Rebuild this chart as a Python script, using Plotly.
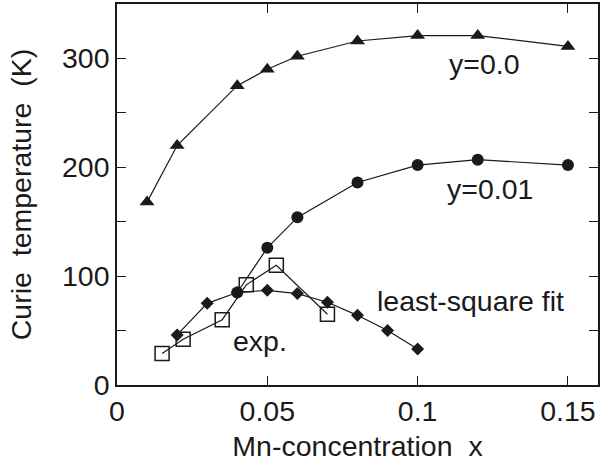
import plotly.graph_objects as go

# y = 0.0 series (triangles)
x_y00 = [0.01, 0.02, 0.04, 0.05, 0.06, 0.08, 0.10, 0.12, 0.15]
tc_y00 = [168, 220, 275, 290, 302, 316, 321, 321, 311]

# y = 0.01 series (circles)
x_y01 = [0.04, 0.05, 0.06, 0.08, 0.10, 0.12, 0.15]
tc_y01 = [85, 126, 154, 186, 202, 207, 202]

# least-square fit (diamonds)
x_fit = [0.02, 0.03, 0.04, 0.05, 0.06, 0.07, 0.08, 0.09, 0.10]
tc_fit = [46, 75, 85, 87, 84, 76, 64, 50, 33]

# experiment (open squares)
x_exp = [0.015, 0.022, 0.035, 0.043, 0.053, 0.07]
tc_exp = [29, 42, 60, 92, 110, 65]

x_tickvals = [0, 0.05, 0.10, 0.15]
x_ticktext = ["0", "0.05", "0.1", "0.15"]
y_tickvals = [0, 50, 100, 150, 200, 250, 300]
y_ticktext = ["0", "", "100", "", "200", "", "300"]

FONT = "Liberation Sans, Arial, Helvetica, sans-serif"
INK = "#1a1a1a"
FS = 28.5

fig = go.Figure()
line = dict(color=INK, width=1.2)

fig.add_trace(go.Scatter(x=x_exp, y=tc_exp, mode="lines+markers", line=line,
                         marker=dict(symbol="square-open", size=14, color=INK, line=dict(width=1.5, color=INK))))
fig.add_trace(go.Scatter(x=x_fit, y=tc_fit, mode="lines+markers", line=line,
                         marker=dict(symbol="diamond", size=10, color=INK)))
fig.add_trace(go.Scatter(x=x_y01, y=tc_y01, mode="lines+markers", line=line,
                         marker=dict(symbol="circle", size=12, color=INK)))
fig.add_trace(go.Scatter(x=x_y00, y=tc_y00, mode="lines+markers", line=line,
                         marker=dict(symbol="triangle-up", size=13, color=INK)))

labels = [
    ("y=0.0", 0.1222, 295),
    ("y=0.01", 0.1242, 180),
    ("least-square fit", 0.1175, 77),
    ("exp.", 0.0474, 40),
]
for txt, lx, ly in labels:
    fig.add_annotation(x=lx, y=ly, text=txt, showarrow=False, xanchor="center", yanchor="middle",
                       font=dict(family=FONT, size=FS, color=INK))

axis_common = dict(showline=True, linecolor=INK, linewidth=1.5, mirror="ticks",
                   ticks="inside", ticklen=9, tickwidth=1.2, tickcolor=INK,
                   showgrid=False, zeroline=False,
                   tickfont=dict(family=FONT, size=FS, color=INK))

fig.update_xaxes(range=[0, 0.16], tickvals=x_tickvals, ticktext=x_ticktext,
                 title=dict(text="Mn-concentration\u00a0\u00a0x", font=dict(family=FONT, size=FS, color=INK), standoff=10),
                 **axis_common)
fig.update_yaxes(range=[0, 350], tickvals=y_tickvals, ticktext=y_ticktext,
                 title=dict(text="Curie\u00a0\u00a0temperature\u00a0\u00a0(K)", font=dict(family=FONT, size=FS, color=INK), standoff=22),
                 **axis_common)

fig.update_layout(width=600, height=465, margin=dict(l=117, r=0, t=4, b=80),
                  plot_bgcolor="white", paper_bgcolor="white", showlegend=False)

fig.write_html("out.html")
